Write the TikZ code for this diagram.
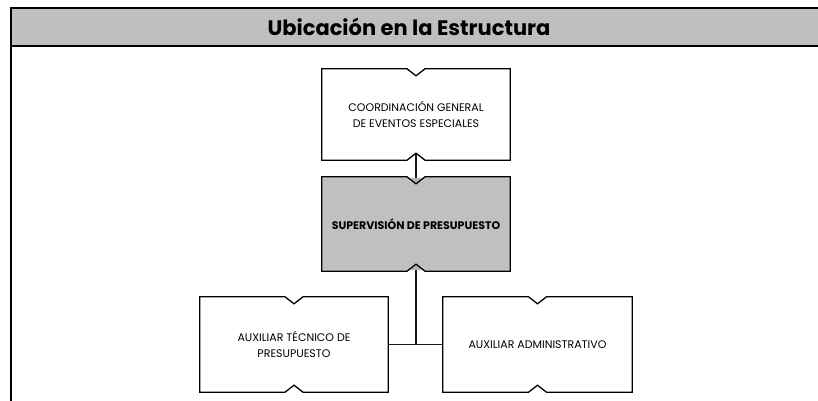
\documentclass[tikz,border=0pt]{standalone}
\usepackage{fontspec}
\setmainfont{Poppins}
\newfontfamily\orgfont{Poppins}
\usetikzlibrary{backgrounds}
\definecolor{hdrgray}{HTML}{BFBFBF}
\definecolor{boxgray}{HTML}{C0C0C0}
\definecolor{tipgray}{HTML}{B4B4B4}
\newcommand{\notchbox}[2]{%
  \filldraw[fill=#2,draw=black,line width=1.3pt,line join=miter]
    (#1.north west) -- ([xshift=-9pt]#1.north) -- ([yshift=-7pt]#1.north)
    -- ([xshift=9pt]#1.north) -- (#1.north east) -- (#1.south east)
    -- ([xshift=9pt]#1.south) -- ([yshift=7pt]#1.south)
    -- ([xshift=-9pt]#1.south) -- (#1.south west) -- cycle;}
\tikzset{
  orgbox/.style={minimum width=188pt, inner sep=0pt, align=center,
    font=\orgfont\fontsize{11}{16}\selectfont},
  link/.style={line width=1.6pt, draw=black!90},
  hdr/.style={fill=hdrgray, draw=black, line width=2.2pt},
}
\begin{document}
\begin{tikzpicture}[x=1pt,y={(0pt,-1pt)}]
\useasboundingbox (0,0) rectangle (818,400);
\draw[line width=2.2pt] (11,8) -- (11,410);
\filldraw[hdr] (11,8) rectangle (830,46);
\node (title) at (409,27) {\fontsize{21}{24}\selectfont\bfseries Ubicación en la Estructura};
\node[orgbox, minimum height=91pt] (coord) at (416,114.5) {COORDINACIÓN GENERAL\\DE EVENTOS ESPECIALES};
\node[orgbox, minimum height=94pt] (sup) at (416,224) {\bfseries SUPERVISIÓN DE PRESUPUESTO};
\node[orgbox, minimum height=95pt] (tec) at (294,344.5) {AUXILIAR TÉCNICO DE\\PRESUPUESTO};
\node[orgbox, minimum height=95pt, minimum width=189pt] (adm) at (537.5,344.5) {AUXILIAR ADMINISTRATIVO};
\coordinate (junc) at (sup.south |- tec.east);
\begin{pgfonlayer}{background}
  \draw[link] ([yshift=7pt]coord.south) -- ([yshift=-7pt]sup.north);
  \draw[link] ([yshift=7pt]sup.south) -- (junc);
  \draw[link] (tec.east) -- (adm.west);
  \fill[tipgray] ([xshift=-6pt,yshift=-1pt]sup.north) -- ([xshift=6pt,yshift=-1pt]sup.north) -- ([yshift=-6.5pt]sup.north) -- cycle;
  \fill[tipgray] ([xshift=-6pt,yshift=1pt]sup.south) -- ([xshift=6pt,yshift=1pt]sup.south) -- ([yshift=6.5pt]sup.south) -- cycle;
  \notchbox{coord}{white}
  \notchbox{sup}{boxgray}
  \notchbox{tec}{white}
  \notchbox{adm}{white}
\end{pgfonlayer}
\end{tikzpicture}
\end{document}
